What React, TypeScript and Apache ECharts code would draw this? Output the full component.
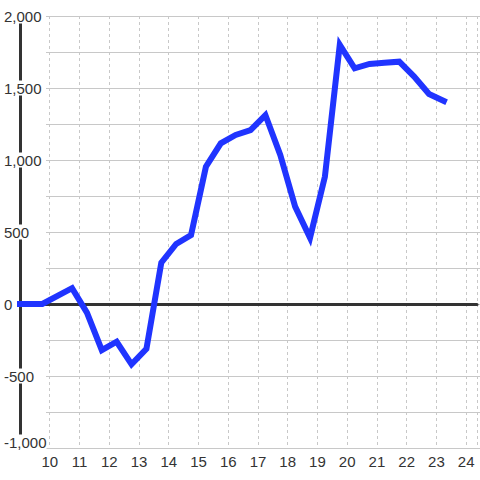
import React, { useEffect, useRef } from "react";
import * as echarts from "echarts";

const hours = [9.0, 9.75, 10.75, 11.25, 11.75, 12.25, 12.75, 13.25, 13.75, 14.25, 14.75, 15.25, 15.75, 16.25, 16.75, 17.25, 17.75, 18.25, 18.75, 19.25, 19.75, 20.25, 20.75, 21.25, 21.75, 22.25, 22.75, 23.25];
const values = [0, 0, 110, -60, -320, -262, -419, -312, 287, 417, 479, 953, 1116, 1174, 1208, 1312, 1035, 676, 460, 884, 1800, 1637, 1667, 1676, 1683, 1579, 1458, 1410];
const xTickLabels = [10, 11, 12, 13, 14, 15, 16, 17, 18, 19, 20, 21, 22, 23, 24];
const yMin = -1000;
const yMax = 2000;

const FONT = "'Liberation Sans', Arial, sans-serif";

export default function App() {
  const ref = useRef<HTMLDivElement>(null);
  useEffect(() => {
    if (!ref.current) return;
    const chart = echarts.init(ref.current, null, { renderer: "svg" });
    const grid = { top: 16, bottom: 32 };
    const xMax = 24 + 1 / 3 + 0.03;
    const option: any = {
      animation: false,
      backgroundColor: "#fff",
      textStyle: { fontFamily: FONT },
      grid: [
        { left: 46, right: 0, ...grid },
        { left: 20, right: 0, ...grid },
      ],
      xAxis: [
        {
          gridIndex: 0,
          type: "value",
          min: 0,
          max: 1,
          axisLine: { show: true, onZero: false, lineStyle: { color: "#c8c8c8", width: 1 } },
          axisTick: { show: false },
          axisLabel: { show: false },
          splitLine: { show: false },
        },
        {
          gridIndex: 1,
          type: "value",
          position: "bottom",
          min: 9,
          max: xMax,
          interval: 1,
          axisLine: { show: false, onZero: false },
          axisTick: { show: false },
          axisLabel: {
            fontSize: 15,
            color: "#333",
            fontFamily: FONT,
            margin: 6,
            formatter: (v: number) => (xTickLabels.includes(v) ? String(v) : ""),
          },
          splitLine: { show: true, lineStyle: { color: "#c8c8c8", type: [3, 3], width: 1 } },
        },
        {
          gridIndex: 1,
          type: "value",
          position: "bottom",
          min: 9,
          max: xMax,
          interval: 1,
          axisLine: { show: true, onZero: true, lineStyle: { color: "#333", width: 3 } },
          axisTick: { show: false },
          axisLabel: { show: false },
          splitLine: { show: false },
        },
      ],
      yAxis: [
        {
          gridIndex: 0,
          type: "value",
          min: yMin,
          max: yMax,
          interval: 250,
          axisLine: { show: false },
          axisTick: { show: false },
          axisLabel: { show: false },
          splitLine: { show: true, lineStyle: { color: "#c8c8c8", width: 1 } },
        },
        {
          gridIndex: 1,
          type: "value",
          min: yMin,
          max: yMax,
          interval: 500,
          axisLine: { show: true, onZero: false, lineStyle: { color: "#333", width: 3 } },
          axisTick: { show: false },
          splitLine: { show: false },
          axisLabel: {
            fontSize: 15,
            color: "#333",
            fontFamily: FONT,
            align: "left",
            margin: 16,
            backgroundColor: "#fff",
            formatter: (v: number) => {
              const s = v.toLocaleString("en-US");
              return v === yMin ? "{low|" + s + "}" : s;
            },
            rich: {
              low: { fontSize: 15, color: "#333", fontFamily: FONT, padding: [0, 0, 12, 0] },
            },
          },
        },
      ],
      series: [
        {
          type: "line",
          xAxisIndex: 1,
          yAxisIndex: 1,
          data: hours.map((h, i) => [h, values[i]]),
          showSymbol: false,
          symbol: "none",
          lineStyle: { color: "#2034ff", width: 6, cap: "square", join: "miter" },
          z: 5,
        },
      ],
    };
    chart.setOption(option);
    return () => chart.dispose();
  }, []);
  return <div ref={ref} style={{ position: "absolute", left: 0, top: 0, width: 480, height: 480 }} />;
}
